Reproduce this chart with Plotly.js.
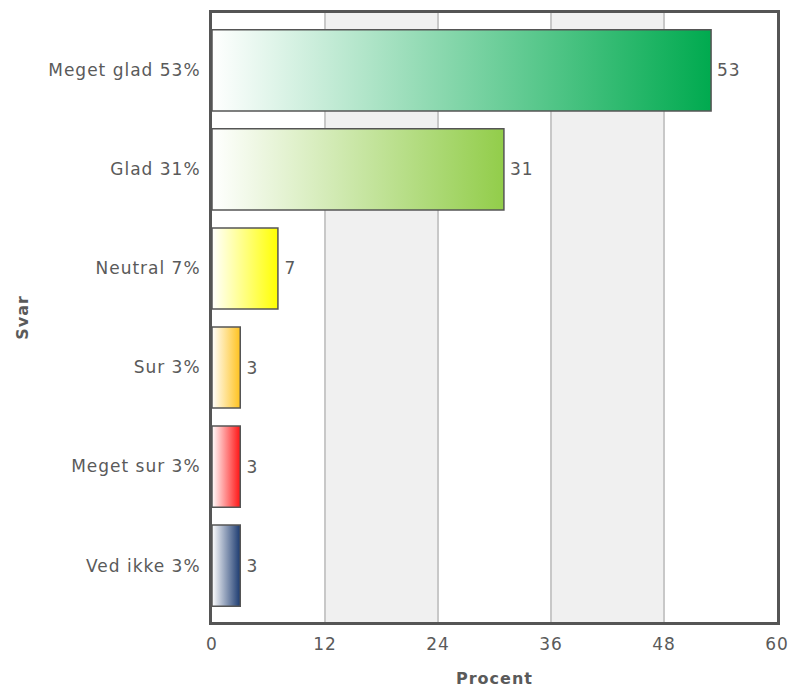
<!DOCTYPE html>
<html>
<head>
<meta charset="utf-8">
<script src="https://cdn.plot.ly/plotly-3.0.1.min.js"></script>
<style>
body{margin:0;background:#fff;}
.main-svg text { letter-spacing: 1px; }
</style>
</head>
<body>
<div id="chart" style="width:790px;height:689px;"></div>
<script>
// ---- data ----
var categories = ["Meget glad 53%", "Glad 31%", "Neutral 7%", "Sur 3%", "Meget sur 3%", "Ved ikke 3%"];
var values = [53, 31, 7, 3, 3, 3];
var barColors = ["#00aa4f", "#92cd4a", "#ffff00", "#ffc21e", "#ff1414", "#1b3a70"];
var xTicks = [0, 12, 24, 36, 48, 60];
var xTitle = "Procent";
var yTitle = "Svar";

// ---- styling ----
var FONT = "DejaVu Sans, Verdana, sans-serif";
var TXT = "#5a5a5a";
var EDGE = "#555555";
var BARW = 0.82;

var idx = categories.map(function (c, i) { return i; });

var traces = [];

// base bar trace (carries the values)
traces.push({
  type: "bar",
  orientation: "h",
  y: idx,
  x: values,
  width: BARW,
  marker: { color: "rgba(0,0,0,0)", line: { width: 0 } },
  hoverinfo: "x+y",
  showlegend: false
});

// gradient fills drawn over each bar, built from the same data arrays
values.forEach(function (v, i) {
  var y0 = i - BARW / 2, y1 = i + BARW / 2;
  traces.push({
    type: "scatter",
    mode: "lines",
    x: [0, v, v, 0, 0],
    y: [y0, y0, y1, y1, y0],
    fill: "toself",
    fillgradient: {
      type: "horizontal",
      colorscale: [[0, "#ffffff"], [1, barColors[i]]]
    },
    line: { color: EDGE, width: 1.5 },
    hoverinfo: "skip",
    showlegend: false
  });
});

// value labels at the bar ends
var annotations = values.map(function (v, i) {
  return {
    x: v, y: i, xref: "x", yref: "y",
    text: String(v), showarrow: false,
    xanchor: "left", yanchor: "middle", xshift: 5,
    font: { family: FONT, size: 17, color: TXT }
  };
});

// alternating background bands from the tick list
var shapes = [];
for (var k = 1; k < xTicks.length - 1; k += 2) {
  shapes.push({
    type: "rect", xref: "x", yref: "paper",
    x0: xTicks[k], x1: xTicks[k + 1], y0: 0, y1: 1,
    fillcolor: "#f0f0f0", line: { width: 0 }, layer: "below"
  });
}

var layout = {
  width: 790, height: 689,
  margin: { l: 212, r: 13, t: 13, b: 67 },
  paper_bgcolor: "#ffffff",
  plot_bgcolor: "#ffffff",
  showlegend: false,
  shapes: shapes,
  annotations: annotations,
  bargap: 0,
  xaxis: {
    range: [0, 60],
    tickvals: xTicks,
    ticktext: xTicks.map(String),
    showgrid: true, gridcolor: "#c8c8c8", gridwidth: 1.5,
    zeroline: false,
    showline: true, mirror: true, linecolor: EDGE, linewidth: 3,
    ticks: "outside", ticklen: 5, tickcolor: "rgba(0,0,0,0)",
    tickfont: { family: FONT, size: 17, color: TXT },
    title: { text: xTitle, standoff: 20, font: { family: FONT, size: 16, color: TXT, weight: "bold" } },
    fixedrange: true
  },
  yaxis: {
    range: [5.57, -0.58],
    tickvals: idx,
    ticktext: categories,
    showgrid: false,
    zeroline: false,
    showline: true, mirror: true, linecolor: EDGE, linewidth: 3,
    ticks: "outside", ticklen: 5, tickcolor: "rgba(0,0,0,0)",
    tickfont: { family: FONT, size: 17, color: TXT },
    title: { text: yTitle, standoff: 30, font: { family: FONT, size: 16, color: TXT, weight: "bold" } },
    fixedrange: true
  }
};

Plotly.newPlot("chart", traces, layout, { displayModeBar: false, staticPlot: true });
</script>
</body>
</html>
